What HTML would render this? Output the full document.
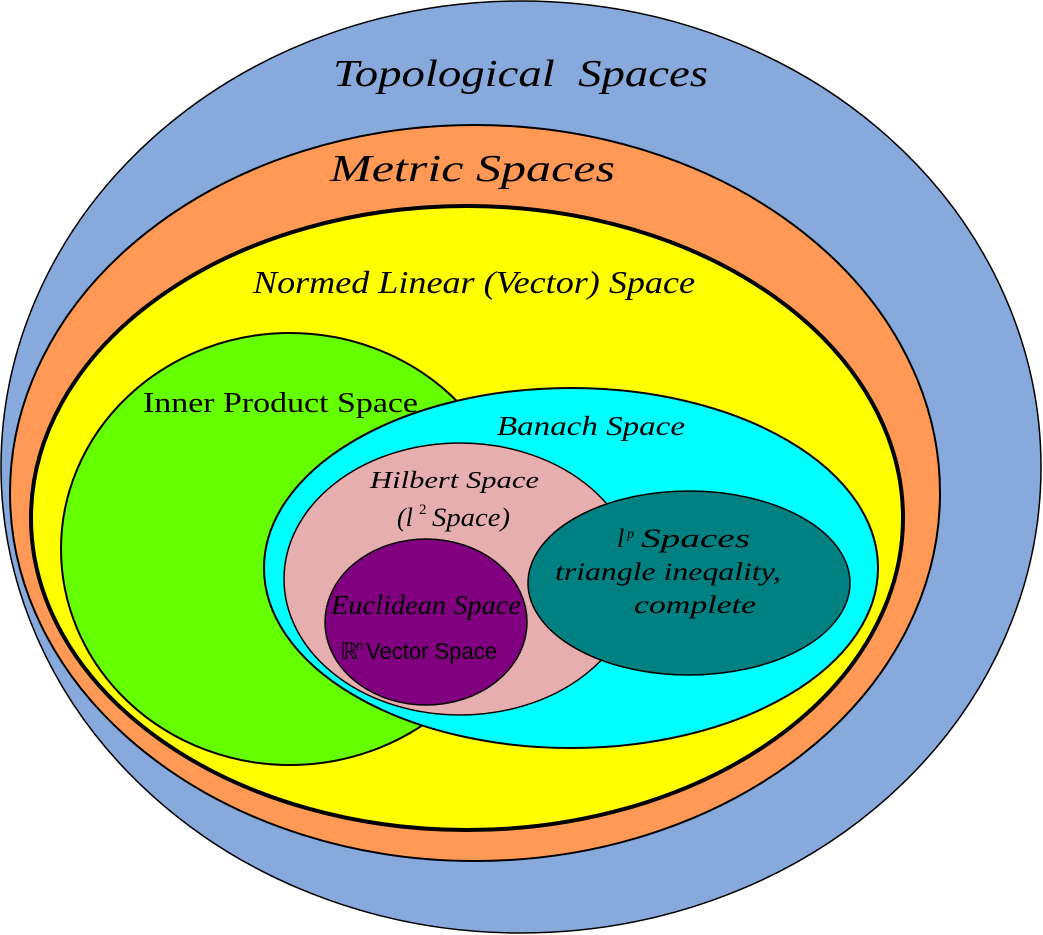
<!DOCTYPE html>
<html><head><meta charset="utf-8"><style>
html,body{margin:0;padding:0;background:#fff;}
svg{display:block;}
</style></head><body>
<svg width="1043" height="935" viewBox="0 0 1043 935" xmlns="http://www.w3.org/2000/svg" font-family="'Liberation Serif','DejaVu Serif',serif">
<ellipse cx="521" cy="467" rx="520" ry="466" fill="#87a9dc" stroke="#000" stroke-width="1.5"/>
<ellipse cx="475" cy="493" rx="465" ry="368" fill="#ff9955" stroke="#000" stroke-width="2"/>
<ellipse cx="467" cy="518" rx="436" ry="312" fill="#ffff00" stroke="#000" stroke-width="4"/>
<ellipse cx="290" cy="549" rx="229" ry="216" fill="#66ff00" stroke="#000" stroke-width="2"/>
<ellipse cx="571" cy="568" rx="307" ry="180" fill="#00ffff" stroke="#000" stroke-width="2"/>
<ellipse cx="460" cy="579" rx="176" ry="136" fill="#e6aeae" stroke="#000" stroke-width="1.5"/>
<ellipse cx="426" cy="622" rx="101" ry="83" fill="#800080" stroke="#000" stroke-width="1.5"/>
<ellipse cx="689" cy="583" rx="161" ry="92" fill="#008080" stroke="#000" stroke-width="1.5"/>

<text x="333" y="86" font-size="38" font-style="italic" textLength="375" lengthAdjust="spacingAndGlyphs">Topological&#160; Spaces</text>
<text x="330" y="181" font-size="38" font-style="italic" textLength="285" lengthAdjust="spacingAndGlyphs">Metric Spaces</text>
<text x="253" y="293" font-size="32" font-style="italic" textLength="442" lengthAdjust="spacingAndGlyphs">Normed Linear (Vector) Space</text>
<text x="143" y="412" font-size="28" font-style="normal" textLength="275" lengthAdjust="spacingAndGlyphs">Inner Product Space</text>
<text x="497" y="435" font-size="27" font-style="italic" textLength="188" lengthAdjust="spacingAndGlyphs">Banach Space</text>
<text x="370" y="488" font-size="24" font-style="italic" textLength="169" lengthAdjust="spacingAndGlyphs">Hilbert Space</text>
<text x="397" y="526" font-size="26" font-style="italic">(l</text>
<text x="419" y="514" font-size="15">2</text>
<text x="432" y="526" font-size="26" font-style="italic" textLength="78" lengthAdjust="spacingAndGlyphs">Space)</text>
<text x="331" y="614" font-size="27" font-style="italic" textLength="190" lengthAdjust="spacingAndGlyphs">Euclidean Space</text>
<text x="340" y="659" font-size="23" font-family="'Liberation Sans','DejaVu Sans',sans-serif">ℝ</text>
<text x="356" y="650" font-size="13" font-family="'Liberation Sans','DejaVu Sans',sans-serif">n</text>
<text x="366" y="659" font-size="23" font-family="'Liberation Sans','DejaVu Sans',sans-serif" textLength="131" lengthAdjust="spacingAndGlyphs">Vector Space</text>
<text x="617" y="547" font-size="26" font-style="italic">l</text>
<text x="627" y="538" font-size="14" font-style="italic">p</text>
<text x="641" y="547" font-size="26" font-style="italic" textLength="109" lengthAdjust="spacingAndGlyphs">Spaces</text>
<text x="555" y="580" font-size="25" font-style="italic" textLength="226" lengthAdjust="spacingAndGlyphs">triangle ineqality,</text>
<text x="634" y="613" font-size="25" font-style="italic" textLength="122" lengthAdjust="spacingAndGlyphs">complete</text>
</svg>
</body></html>
